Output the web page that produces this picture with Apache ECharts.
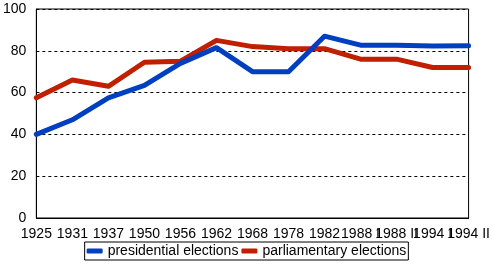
<!DOCTYPE html>
<html>
<head>
<meta charset="utf-8">
<script src="https://cdn.jsdelivr.net/npm/echarts@6/dist/echarts.min.js"></script>
<style>html,body{margin:0;padding:0;background:#fff;}#c{width:493px;height:267px;}</style>
</head>
<body>
<div id="c"></div>
<script>
const categories = ['1925','1931','1937','1950','1956','1962','1968','1978','1982','1988 I','1988 II','1994 I','1994 II'];
const presidential = [40, 47, 57.5, 63.5, 74, 81.5, 70, 70, 87, 82.7, 82.6, 82.3, 82.4];
const parliamentary = [57.5, 66, 63, 74.5, 75, 85, 82, 81, 81, 76, 76, 72, 72];
const yTicks = [0, 20, 40, 60, 80, 100];

const chart = echarts.init(document.getElementById('c'), null, {renderer: 'canvas'});
const font = 'Liberation Sans, Arial, sans-serif';
chart.setOption({
  animation: false,
  backgroundColor: '#fff',
  grid: {left: 34, right: 22, top: 9, bottom: 49, show: true, borderColor: '#000', borderWidth: 1},
  xAxis: {
    type: 'category', data: categories, boundaryGap: false,
    axisLine: {lineStyle: {color: '#000', width: 1}},
    axisTick: {show: false},
    axisLabel: {interval: 0, color: '#000', fontFamily: font, fontSize: 14, margin: 9, hideOverlap: false},
    splitLine: {show: false}
  },
  yAxis: {
    type: 'value', min: yTicks[0], max: yTicks[yTicks.length - 1], interval: 20,
    axisLine: {show: true, lineStyle: {color: '#000', width: 1}},
    axisTick: {show: false},
    axisLabel: {color: '#000', fontFamily: font, fontSize: 14, margin: 10},
    splitLine: {show: true, lineStyle: {color: '#000', type: [3, 3], width: 1}}
  },
  legend: {
    top: 242, left: 'center',
    data: ['presidential elections', 'parliamentary elections'],
    borderColor: '#000', borderWidth: 1, padding: [2, 2, 2, 2],
    itemGap: 3, itemWidth: 16, itemHeight: 5, icon: 'roundRect',
    textStyle: {color: '#000', fontFamily: font, fontSize: 14}
  },
  series: [
    {name: 'presidential elections', type: 'line', data: presidential, showSymbol: false, symbol: 'none',
     color: '#0040C0', lineStyle: {width: 5, color: '#0040C0', cap: 'round', join: 'round'}, z: 3},
    {name: 'parliamentary elections', type: 'line', data: parliamentary, showSymbol: false, symbol: 'none',
     color: '#C02000', lineStyle: {width: 5, color: '#C02000', cap: 'round', join: 'round'}, z: 2}
  ]
});
</script>
</body>
</html>
